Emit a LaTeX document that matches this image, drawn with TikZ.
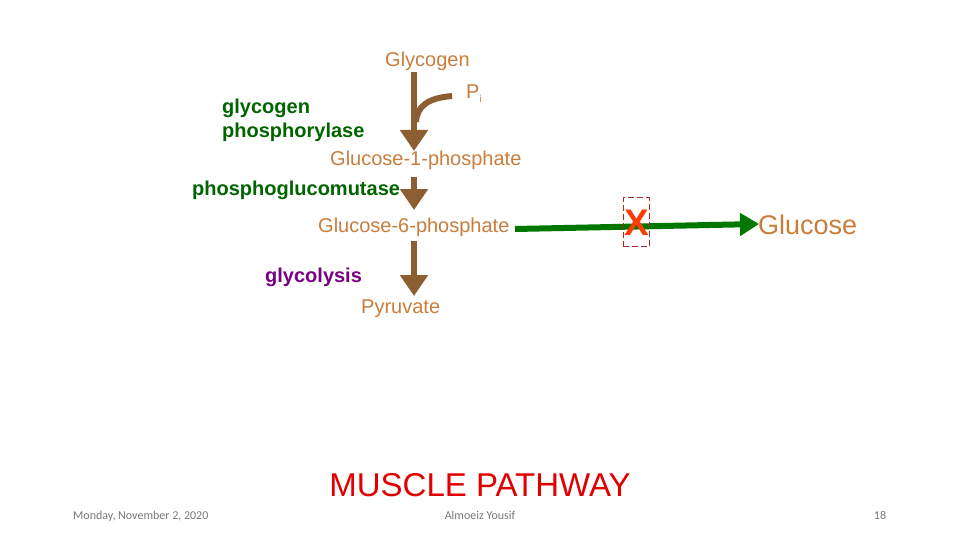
\documentclass[tikz,border=0pt]{standalone}
\usepackage{fontspec}
\setmainfont{Liberation Sans}
\newfontfamily\footfont{Carlito}
\usetikzlibrary{arrows.meta}
\definecolor{metab}{RGB}{200,125,60}
\definecolor{brarrow}{RGB}{140,95,50}
\definecolor{enz}{RGB}{0,100,0}
\definecolor{grarrow}{RGB}{0,120,0}
\definecolor{glyc}{RGB}{120,0,130}
\definecolor{titlered}{RGB}{225,0,0}
\definecolor{xred}{RGB}{255,60,0}
\definecolor{boxred}{RGB}{170,40,40}
\definecolor{footgray}{RGB}{120,120,120}
\tikzset{
  metabolite/.style={text=metab, font=\fontsize{20}{23}\selectfont, inner sep=0pt, anchor=base west},
  enzyme/.style={text=enz, font=\fontsize{20}{23}\selectfont\bfseries, inner sep=0pt, anchor=base west},
  brownarrow/.style={draw=brarrow, line width=6pt, -{Triangle[width=27pt,length=21pt]}},
  greenarrow/.style={draw=grarrow, line width=6pt, -{Triangle[width=22pt,length=19pt]}},
  footer/.style={text=footgray, font=\footfont\fontsize{12}{14}\selectfont, inner sep=0pt, anchor=base}
}
\begin{document}
\begin{tikzpicture}[x=1pt,y=-1pt]
\useasboundingbox (0,0) rectangle (960,540);
% metabolites
\node[metabolite] (glycogen) at (385,67) {Glycogen};
\node[metabolite] (pi) at (466,99) {P\raisebox{-0.3ex}{\fontsize{10}{12}\selectfont i}};
\node[metabolite] (g1p) at (330,166) {Glucose-1-phosphate};
\node[metabolite] (g6p) at (318,232) {Glucose-6-phosphate};
\node[metabolite] (pyr) at (361,313) {Pyruvate};
\node[metabolite, font=\fontsize{27}{30}\selectfont] (glucose) at (758,234) {Glucose};
% enzymes
\node[enzyme] (gp1) at (222,114) {glycogen};
\node[enzyme] (gp2) at (222,138) {phosphorylase};
\node[enzyme] (pgm) at (192,195) {phosphoglucomutase};
\node[enzyme, text=glyc] (glycol) at (265,282) {glycolysis};
% arrow coordinates
\coordinate (a1s) at (414,72);
\coordinate (a1e) at (414,151);
\coordinate (a2s) at (414,177);
\coordinate (a2e) at (414,210);
\coordinate (a3s) at (414,241);
\coordinate (a3e) at (414,296);
\coordinate (pis) at (452,96);
\coordinate (pie) at (416,122);
\coordinate (gs) at (515,229);
\coordinate (ge) at (759,224);
\draw[brownarrow] (a1s) -- (a1e);
\draw[draw=brarrow, line width=6pt] (pis) .. controls (428,98) and (417,106) .. (pie);
\draw[brownarrow] (a2s) -- (a2e);
\draw[brownarrow] (a3s) -- (a3e);
\draw[greenarrow] (gs) -- (ge);
% block
\node[draw=boxred, dash pattern=on 6pt off 3pt, line width=0.9pt, minimum width=26pt, minimum height=49pt, inner sep=0pt] (block) at (636,222) {};
\node[text=xred, font=\fontsize{37}{40}\selectfont\bfseries, inner sep=0pt, anchor=base] (xmark) at (636.5,235.5) {X};
% title
\node[text=titlered, font=\fontsize{33}{36}\selectfont, inner sep=0pt, anchor=base] (title) at (480,496) {MUSCLE PATHWAY};
% footer
\node[footer, anchor=base west] (date) at (73,519) {Monday, November 2, 2020};
\node[footer] (author) at (480,519) {Almoeiz Yousif};
\node[footer] (page) at (880,519) {18};
\end{tikzpicture}
\end{document}
